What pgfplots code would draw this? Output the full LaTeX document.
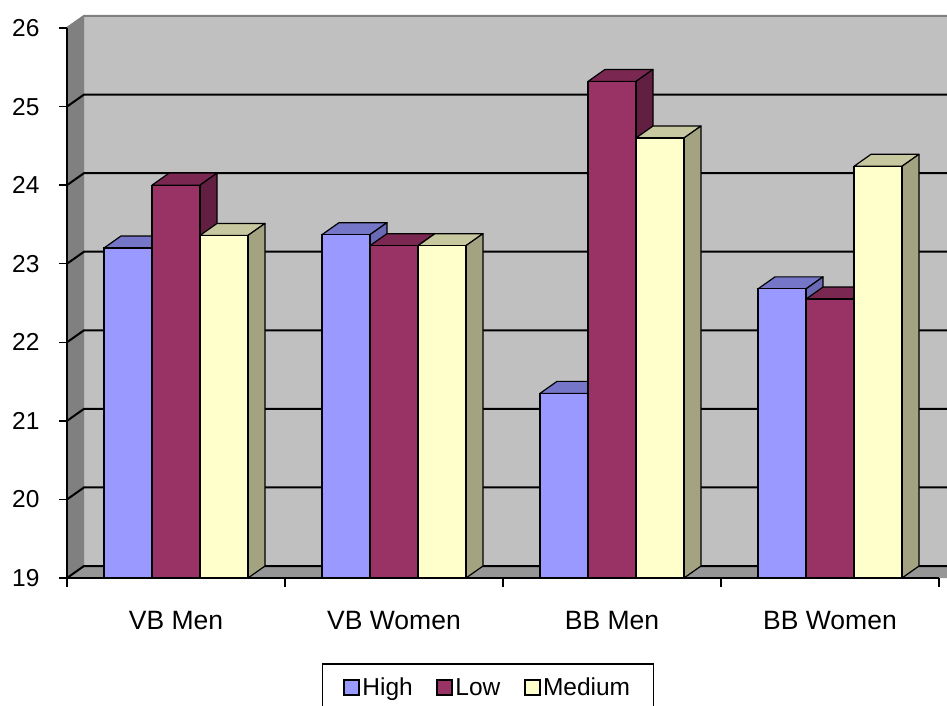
\documentclass[border=0pt]{standalone}
\usepackage{pgfplots}
\pgfplotsset{compat=1.18}
\usepackage{pgfplotstable}
\usepackage{fontspec}
\setmainfont{Liberation Sans}

\definecolor{highF}{HTML}{9999FF}
\definecolor{highT}{HTML}{7676C8}
\definecolor{highS}{HTML}{6A6AB4}
\definecolor{lowF}{HTML}{993366}
\definecolor{lowT}{HTML}{7A2852}
\definecolor{lowS}{HTML}{621F42}
\definecolor{medF}{HTML}{FFFFCC}
\definecolor{medT}{HTML}{C8C8A0}
\definecolor{medS}{HTML}{A3A382}
\definecolor{backwall}{HTML}{C0C0C0}
\definecolor{leftwall}{HTML}{808080}
\definecolor{floorc}{HTML}{969696}

\pgfplotstableread{
x high low medium
0 23.20 24.00 23.36
1 23.37 23.23 23.23
2 21.35 25.32 24.60
3 22.68 22.55 24.24
}\datatable

% 3D top and side faces of a bar, drawn at the front-top centre of the bar
\newcommand\defbarmark[3]{%
 \pgfdeclareplotmark{#1}{%
  \pgfmathsetmacro\Hh{(\val-19)*78.5714}%
  \pgfpathmoveto{\pgfqpoint{-24pt}{0pt}}%
  \pgfpathlineto{\pgfqpoint{24pt}{0pt}}%
  \pgfpathlineto{\pgfqpoint{41pt}{12pt}}%
  \pgfpathlineto{\pgfqpoint{-7pt}{12pt}}%
  \pgfpathclose
  \pgfsetfillcolor{#2}%
  \pgfusepath{fill,stroke}%
  \pgfpathmoveto{\pgfqpoint{24pt}{0pt}}%
  \pgfpathlineto{\pgfqpoint{41pt}{12pt}}%
  \pgfpathlineto{\pgfpoint{41pt}{12pt-\Hh pt}}%
  \pgfpathlineto{\pgfpoint{24pt}{-\Hh pt}}%
  \pgfpathclose
  \pgfsetfillcolor{#3}%
  \pgfusepath{fill,stroke}%
 }}
\defbarmark{barHigh}{highT}{highS}
\defbarmark{barLow}{lowT}{lowS}
\defbarmark{barMed}{medT}{medS}

\pgfplotsset{
  frontbar/.style={ybar, bar width=48pt, draw=black, line width=1.2pt,
    legend image code/.code={\draw[##1, draw=black, line width=1.6pt] (0pt,-7.5pt) rectangle (15pt,7.5pt);}},
  depth/.style={scatter, only marks, forget plot, mark=#1,
    scatter/@pre marker code/.code={}, scatter/@post marker code/.code={},
    mark options={draw=black, line width=1.2pt, line join=round},
    visualization depends on={rawy \as \val}},
}

\begin{document}
\begin{tikzpicture}
\begin{scope}[x=1pt,y=-1pt]
  \fill[backwall] (84,15) rectangle (975,566);
  \fill[leftwall] (67,27)--(84,15)--(84,566)--(67,578)--cycle;
  \fill[floorc] (67,578)--(84,566)--(975,566)--(958,578)--cycle;
  \foreach \i in {0,...,6} {
    \pgfmathsetmacro\yf{578-\i*78.5714}
    \draw[line width=2pt] (67,\yf)--(84,\yf-12)--(975,\yf-12);
  }
  \draw[line width=2pt, gray] (67,28)--(84,16)--(975,16);
\end{scope}

\begin{axis}[
  at={(67pt,-578pt)}, anchor=south west,
  scale only axis, width=872pt, height=550pt,
  xmin=-0.5, xmax=3.5, ymin=19, ymax=26,
  clip marker paths=true,
  axis x line*=bottom, axis y line*=left,
  axis line style={line width=1.4pt, black},
  tick style={black, line width=1.3pt},
  tick align=outside,
  major tick length=8pt, minor tick length=9pt,
  ytick={19,20,...,26},
  xtick={0,1,2,3},
  xticklabels={VB Men, VB Women, BB Men, BB Women},
  major x tick style={draw=none},
  minor xtick={-0.5,0.5,1.5,2.5,3.5},
  yticklabel style={font=\fontsize{24.5}{28}\selectfont, xshift=-16pt},
  xticklabel style={font=\fontsize{26.5}{30}\selectfont, yshift=-22pt},
  /pgf/number format/assume math mode=true,
  legend columns=3,
  legend style={at={(0.4828,-0.1545)}, anchor=north, draw=black, line width=1.6pt,
    font=\fontsize{24.5}{28}\selectfont, inner xsep=21pt, inner ysep=12pt,
    nodes={inner xsep=2.5pt},
    /tikz/every even column/.append style={column sep=21pt}},
]
\addplot[depth=barHigh] table[x expr=\thisrow{x}-0.22018, y=high]{\datatable};
\addplot[frontbar, fill=highF, bar shift=-48pt] table[x=x, y=high]{\datatable};
\addplot[depth=barLow] table[x=x, y=low]{\datatable};
\addplot[frontbar, fill=lowF, bar shift=0pt] table[x=x, y=low]{\datatable};
\addplot[depth=barMed] table[x expr=\thisrow{x}+0.22018, y=medium]{\datatable};
\addplot[frontbar, fill=medF, bar shift=48pt] table[x=x, y=medium]{\datatable};
\legend{High, Low, Medium}
\end{axis}
\pgfresetboundingbox
\path[use as bounding box] (0pt,0pt) rectangle (947pt,-706pt);
\end{tikzpicture}
\end{document}
